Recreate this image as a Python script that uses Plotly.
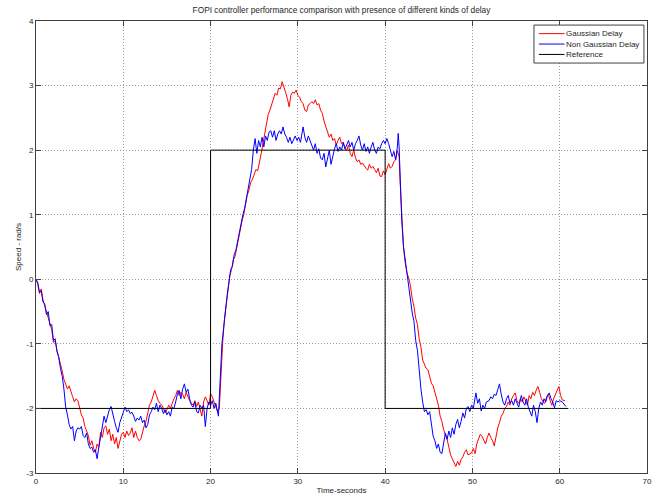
import plotly.graph_objects as go

title_text = "FOPI controller performance comparison with presence of different kinds of delay"
x_label = "Time-seconds"
y_label = "Speed - rad/s"
x_ticks = [0, 10, 20, 30, 40, 50, 60, 70]
y_ticks = [-3, -2, -1, 0, 1, 2, 3, 4]
legend_names = ["Gaussian Delay", "Non Gaussian Delay", "Reference"]
legend_colors = ["#ff0000", "#0000ff", "#000000"]

# Gaussian delay response (time s, speed rad/s)
gauss_points = [
    (0, 0), (0.2, -0.08), (0.4, -0.22), (0.6, -0.15), (0.8, -0.32), (1.0, -0.42), (1.2, -0.5),
    (1.4, -0.58), (1.6, -0.7), (1.8, -0.78), (2.0, -0.98), (2.2, -0.95), (2.4, -1.1), (2.6, -1.2),
    (2.8, -1.3), (3.0, -1.42), (3.2, -1.55), (3.4, -1.62), (3.6, -1.7), (3.8, -1.65), (4.0, -1.75),
    (4.2, -1.82), (4.4, -1.9), (4.6, -1.85), (4.8, -1.88), (5.0, -2.02), (5.2, -2.1), (5.4, -2.15),
    (5.6, -2.28), (5.8, -2.35), (6.0, -2.42), (6.2, -2.57), (6.4, -2.5), (6.6, -2.62), (6.8, -2.68),
    (7.0, -2.55), (7.2, -2.6), (7.4, -2.37), (7.6, -2.45), (7.8, -2.3), (8.0, -2.27), (8.2, -2.4),
    (8.4, -2.32), (8.6, -2.5), (8.8, -2.4), (9.0, -2.55), (9.2, -2.45), (9.4, -2.62), (9.6, -2.5),
    (9.8, -2.4), (10.0, -2.37), (10.2, -2.45), (10.4, -2.35), (10.6, -2.42), (10.8, -2.38),
    (11.0, -2.3), (11.2, -2.45), (11.4, -2.35), (11.6, -2.45), (11.8, -2.5), (12.0, -2.48),
    (12.2, -2.35), (12.4, -2.27), (12.6, -2.2), (12.8, -2.05), (13.0, -1.95), (13.2, -1.9),
    (13.4, -1.82), (13.6, -1.72), (13.8, -1.8), (14.0, -1.88), (14.2, -1.92), (14.4, -1.95),
    (14.6, -2.0), (14.8, -2.07), (15.0, -2.02), (15.2, -1.95), (15.4, -2.0), (15.6, -1.92),
    (15.8, -1.85), (16.0, -1.8), (16.2, -1.72), (16.4, -1.8), (16.6, -1.75), (16.8, -1.78),
    (17.0, -1.85), (17.2, -1.75), (17.4, -1.82), (17.6, -1.88), (17.8, -1.92), (18.0, -1.95),
    (18.2, -1.88), (18.4, -1.97), (18.6, -1.9), (18.8, -2.0), (19.0, -2.12), (19.2, -1.9),
    (19.4, -1.82), (19.6, -1.88), (19.8, -1.95), (20.0, -1.77), (20.2, -1.82), (20.4, -1.9),
    (20.6, -1.98), (20.8, -2.05), (21.0, -2.0), (21.2, -1.4), (21.4, -0.95), (21.6, -0.6),
    (21.8, -0.4), (22.0, -0.2), (22.2, 0.05), (22.4, 0.15), (22.6, 0.3), (22.8, 0.35), (23.0, 0.5),
    (23.2, 0.62), (23.4, 0.78), (23.6, 0.9), (23.8, 1.0), (24.0, 1.15), (24.2, 1.3), (24.4, 1.38),
    (24.6, 1.5), (24.8, 1.55), (25.0, 1.62), (25.2, 1.7), (25.4, 1.68), (25.6, 1.85), (25.8, 1.95),
    (26.0, 2.1), (26.2, 2.25), (26.4, 2.4), (26.6, 2.55), (26.8, 2.62), (27.0, 2.72), (27.2, 2.8),
    (27.4, 2.88), (27.6, 2.85), (27.8, 2.96), (28.0, 2.95), (28.2, 3.06), (28.4, 2.98), (28.6, 2.9),
    (28.8, 2.8), (29.0, 2.67), (29.2, 2.85), (29.4, 2.9), (29.6, 2.88), (29.8, 2.93), (30.0, 2.85),
    (30.2, 2.82), (30.4, 2.75), (30.6, 2.72), (30.8, 2.62), (31.0, 2.6), (31.2, 2.7), (31.4, 2.72),
    (31.6, 2.75), (31.8, 2.72), (32.0, 2.78), (32.2, 2.7), (32.4, 2.72), (32.6, 2.62), (32.8, 2.57),
    (33.0, 2.45), (33.2, 2.36), (33.4, 2.3), (33.6, 2.2), (33.8, 2.25), (34.0, 2.15), (34.2, 2.18),
    (34.4, 2.08), (34.6, 2.15), (34.8, 2.2), (35.0, 2.1), (35.2, 2.12), (35.4, 2.02), (35.6, 2.0),
    (35.8, 2.08), (36.0, 1.95), (36.2, 1.9), (36.4, 2.0), (36.6, 1.88), (36.8, 1.82), (37.0, 1.85),
    (37.2, 1.78), (37.4, 1.8), (37.6, 1.75), (37.8, 1.72), (38.0, 1.69), (38.2, 1.78), (38.4, 1.72),
    (38.6, 1.75), (38.8, 1.7), (39.0, 1.65), (39.2, 1.72), (39.4, 1.6), (39.6, 1.59), (39.8, 1.68),
    (40.0, 1.62), (40.2, 1.69), (40.4, 1.79), (40.6, 1.72), (40.8, 1.75), (41.0, 1.82), (41.2, 1.85),
    (41.4, 1.99), (41.6, 1.9), (41.7, 1.55), (41.9, 0.9), (42.1, 0.5), (42.3, 0.25), (42.5, 0.1),
    (42.7, 0.02), (42.9, -0.1), (43.1, -0.3), (43.3, -0.42), (43.5, -0.6), (43.7, -0.7),
    (43.9, -0.92), (44.1, -1.05), (44.3, -1.25), (44.5, -1.32), (44.7, -1.38), (44.9, -1.4),
    (45.1, -1.5), (45.3, -1.61), (45.5, -1.65), (45.7, -1.75), (45.9, -1.82), (46.1, -1.95),
    (46.3, -2.12), (46.5, -2.2), (46.7, -2.33), (46.9, -2.4), (47.1, -2.48), (47.3, -2.6),
    (47.5, -2.72), (47.7, -2.78), (47.9, -2.85), (48.1, -2.9), (48.3, -2.82), (48.5, -2.88),
    (48.7, -2.79), (48.9, -2.75), (49.1, -2.68), (49.3, -2.64), (49.5, -2.72), (49.7, -2.7),
    (49.9, -2.69), (50.1, -2.62), (50.3, -2.7), (50.5, -2.55), (50.7, -2.48), (50.9, -2.4),
    (51.1, -2.43), (51.3, -2.5), (51.5, -2.55), (51.7, -2.45), (51.9, -2.38), (52.1, -2.45),
    (52.3, -2.5), (52.5, -2.58), (52.7, -2.42), (52.9, -2.3), (53.1, -2.22), (53.3, -2.12),
    (53.5, -2.08), (53.7, -2.0), (53.9, -1.97), (54.1, -1.9), (54.3, -1.95), (54.5, -1.85),
    (54.7, -1.8), (54.9, -1.76), (55.1, -1.88), (55.3, -1.92), (55.5, -1.85), (55.7, -1.9),
    (55.9, -1.82), (56.1, -1.88), (56.3, -1.95), (56.5, -1.8), (56.7, -1.85), (56.9, -1.75),
    (57.1, -1.8), (57.3, -1.72), (57.5, -1.66), (57.7, -1.75), (57.9, -1.85), (58.1, -1.9),
    (58.3, -1.92), (58.5, -1.82), (58.7, -1.78), (58.9, -1.88), (59.1, -1.95), (59.3, -1.85),
    (59.5, -1.78), (59.7, -1.7), (59.9, -1.66), (60.1, -1.8), (60.3, -1.87), (60.6, -1.88),
]

# Non Gaussian delay response (time s, speed rad/s)
nongauss_points = [
    (0, 0), (0.2, -0.05), (0.4, -0.2), (0.6, -0.18), (0.8, -0.35), (1.0, -0.38), (1.2, -0.55),
    (1.4, -0.5), (1.6, -0.72), (1.8, -0.7), (2.0, -0.95), (2.2, -0.92), (2.4, -1.12), (2.6, -1.2),
    (2.8, -1.38), (3.0, -1.5), (3.2, -1.7), (3.4, -1.98), (3.6, -2.1), (3.8, -2.25), (4.0, -2.32),
    (4.2, -2.28), (4.4, -2.5), (4.6, -2.35), (4.8, -2.3), (5.0, -2.32), (5.2, -2.28), (5.4, -2.42),
    (5.6, -2.45), (5.8, -2.38), (6.0, -2.55), (6.2, -2.62), (6.4, -2.6), (6.6, -2.68), (6.8, -2.64),
    (7.0, -2.78), (7.2, -2.6), (7.4, -2.45), (7.6, -2.28), (7.8, -2.12), (8.0, -2.22), (8.2, -2.1),
    (8.4, -2.02), (8.6, -1.97), (8.8, -2.1), (9.0, -2.2), (9.2, -2.3), (9.4, -2.37), (9.6, -2.22),
    (9.8, -2.15), (10.0, -2.05), (10.2, -1.98), (10.4, -2.05), (10.6, -2.02), (10.8, -2.08),
    (11.0, -2.06), (11.2, -2.12), (11.4, -2.2), (11.6, -2.15), (11.8, -2.18), (12.0, -2.12),
    (12.2, -2.22), (12.4, -2.18), (12.6, -2.3), (12.8, -2.25), (13.0, -2.1), (13.2, -2.05),
    (13.4, -1.98), (13.6, -2.02), (13.8, -1.92), (14.0, -2.05), (14.2, -1.95), (14.4, -2.0),
    (14.6, -2.08), (14.8, -2.02), (15.0, -2.1), (15.2, -2.05), (15.4, -2.12), (15.6, -1.98),
    (15.8, -2.0), (16.0, -1.9), (16.2, -1.78), (16.4, -1.72), (16.6, -1.85), (16.8, -1.7),
    (17.0, -1.62), (17.2, -1.75), (17.4, -1.7), (17.6, -1.85), (17.8, -1.95), (18.0, -1.98),
    (18.2, -1.9), (18.4, -2.05), (18.6, -2.07), (18.8, -1.95), (19.0, -2.0), (19.2, -1.95),
    (19.4, -2.28), (19.6, -2.0), (19.8, -1.9), (20.0, -1.95), (20.2, -1.88), (20.4, -2.0),
    (20.6, -1.92), (20.9, -2.12), (21.1, -1.6), (21.3, -1.0), (21.5, -0.75), (21.7, -0.45),
    (21.9, -0.25), (22.1, -0.05), (22.3, 0.15), (22.5, 0.2), (22.7, 0.38), (22.9, 0.45), (23.1, 0.6),
    (23.3, 0.72), (23.5, 0.85), (23.7, 1.0), (23.9, 1.1), (24.1, 1.25), (24.3, 1.4), (24.5, 1.5),
    (24.7, 1.7), (24.9, 2.0), (25.1, 2.18), (25.3, 1.95), (25.5, 2.15), (25.7, 2.05), (25.9, 2.2),
    (26.1, 2.05), (26.3, 2.22), (26.5, 2.15), (26.7, 2.28), (26.9, 2.3), (27.1, 2.2), (27.3, 2.3),
    (27.5, 2.15), (27.7, 2.25), (27.9, 2.3), (28.1, 2.25), (28.3, 2.36), (28.5, 2.25), (28.7, 2.2),
    (28.9, 2.12), (29.1, 2.2), (29.3, 2.1), (29.5, 2.15), (29.7, 2.22), (29.9, 2.15), (30.1, 2.2),
    (30.3, 2.12), (30.6, 2.36), (30.8, 2.2), (31.0, 2.12), (31.2, 2.22), (31.4, 2.15), (31.6, 2.05),
    (31.8, 2.0), (32.0, 2.1), (32.2, 1.95), (32.4, 2.02), (32.6, 1.88), (32.8, 1.85), (33.0, 1.95),
    (33.2, 1.74), (33.4, 1.9), (33.6, 2.0), (33.8, 1.78), (34.0, 1.92), (34.2, 2.02), (34.4, 2.1),
    (34.6, 1.98), (34.8, 2.05), (35.0, 2.0), (35.2, 2.12), (35.4, 2.02), (35.6, 2.08), (35.8, 2.15),
    (36.0, 2.05), (36.2, 2.12), (36.4, 2.0), (36.6, 2.1), (36.8, 2.15), (37.0, 2.22), (37.2, 2.08),
    (37.4, 2.0), (37.6, 2.1), (37.8, 1.98), (38.0, 2.05), (38.2, 1.95), (38.4, 2.05), (38.6, 2.12),
    (38.8, 2.0), (39.0, 1.95), (39.2, 2.05), (39.4, 2.02), (39.6, 2.1), (39.8, 2.15), (40.0, 2.1),
    (40.2, 2.18), (40.4, 2.1), (40.6, 2.0), (40.8, 1.9), (41.0, 1.98), (41.2, 1.85), (41.4, 2.05),
    (41.5, 2.26), (41.6, 2.05), (41.7, 1.6), (41.9, 0.92), (42.1, 0.51), (42.3, 0.3), (42.5, 0.1),
    (42.7, -0.15), (42.9, -0.3), (43.1, -0.52), (43.3, -0.65), (43.5, -0.95), (43.7, -1.1),
    (43.9, -1.45), (44.1, -1.7), (44.3, -1.9), (44.5, -2.05), (44.7, -2.02), (44.9, -2.1),
    (45.1, -2.05), (45.3, -2.25), (45.5, -2.43), (45.7, -2.5), (45.9, -2.62), (46.1, -2.55),
    (46.3, -2.68), (46.5, -2.7), (46.7, -2.5), (46.9, -2.38), (47.1, -2.48), (47.3, -2.35),
    (47.5, -2.45), (47.7, -2.3), (47.9, -2.4), (48.1, -2.25), (48.3, -2.17), (48.5, -2.3),
    (48.7, -2.2), (48.9, -2.07), (49.1, -2.15), (49.3, -2.0), (49.5, -1.97), (49.7, -2.05),
    (49.9, -1.95), (50.1, -2.0), (50.4, -1.76), (50.6, -1.92), (50.8, -1.85), (51.0, -2.04),
    (51.2, -1.95), (51.4, -2.0), (51.6, -1.9), (51.9, -1.88), (52.1, -1.82), (52.3, -1.85),
    (52.5, -1.78), (52.7, -1.8), (52.9, -1.71), (53.1, -1.62), (53.3, -1.78), (53.5, -1.9),
    (53.7, -1.95), (53.9, -1.85), (54.1, -1.8), (54.3, -1.92), (54.5, -1.88), (54.7, -1.95),
    (54.9, -1.85), (55.1, -1.92), (55.3, -1.98), (55.6, -1.8), (55.8, -1.9), (56.0, -1.95),
    (56.2, -1.85), (56.4, -1.98), (56.6, -2.05), (56.8, -2.12), (57.0, -1.95), (57.2, -2.05),
    (57.4, -2.22), (57.6, -2.0), (57.8, -1.9), (58.0, -1.95), (58.2, -1.85), (58.4, -1.9),
    (58.6, -1.8), (58.8, -1.76), (59.0, -1.85), (59.2, -1.9), (59.4, -1.99), (59.6, -1.88),
    (59.8, -1.9), (60.0, -1.88), (60.3, -1.9), (60.7, -1.97),
]

ref_t = [0, 20, 20, 40, 40, 61]
ref_speed = [-2, -2, 2, 2, -2, -2]

gauss_t = [p[0] for p in gauss_points]
gauss_speed = [p[1] for p in gauss_points]
nongauss_t = [p[0] for p in nongauss_points]
nongauss_speed = [p[1] for p in nongauss_points]

FONT = "Liberation Sans, Arial, sans-serif"
TXT = "#262626"
AX = "#404040"

fig = go.Figure()
fig.add_trace(go.Scatter(x=gauss_t, y=gauss_speed, mode="lines", name=legend_names[0],
                         line=dict(color=legend_colors[0], width=1)))
fig.add_trace(go.Scatter(x=nongauss_t, y=nongauss_speed, mode="lines", name=legend_names[1],
                         line=dict(color=legend_colors[1], width=1)))
fig.add_trace(go.Scatter(x=ref_t, y=ref_speed, mode="lines", name=legend_names[2],
                         line=dict(color=legend_colors[2], width=1)))

axis_common = dict(
    showline=True, linecolor=AX, linewidth=1, mirror="ticks",
    ticks="inside", ticklen=5, tickcolor=AX, tickwidth=1,
    showgrid=True, gridcolor="#9a9a9a", griddash="1px,2px", gridwidth=1,
    zeroline=False, automargin=False, tickfont=dict(family=FONT, size=8, color=TXT),
)

# MATLAB-style compact legend box (paper coordinates of the plot area)
shapes = [dict(type="rect", xref="paper", yref="paper", x0=0.815, x1=0.995, y0=0.907, y1=0.991,
               line=dict(color=AX, width=1), fillcolor="white", layer="above")]
annotations = []
row_y = [0.972, 0.949, 0.926]
for name, col, yy in zip(legend_names, legend_colors, row_y):
    shapes.append(dict(type="line", xref="paper", yref="paper", x0=0.823, x1=0.865, y0=yy, y1=yy,
                       line=dict(color=col, width=1), layer="above"))
    annotations.append(dict(text=name, xref="paper", yref="paper", x=0.866, y=yy,
                            xanchor="left", yanchor="middle", showarrow=False, borderpad=0,
                            font=dict(family=FONT, size=8, color=TXT)))

fig.update_layout(
    width=656, height=495,
    margin=dict(l=36, r=9, t=21, b=22),
    paper_bgcolor="white", plot_bgcolor="white",
    font=dict(family=FONT, size=8, color=TXT),
    title=dict(text=title_text, x=(36 + 647) / 2 / 656, xanchor="center",
               y=1 - 10 / 495, yanchor="middle", font=dict(family=FONT, size=8.3, color=TXT)),
    xaxis=dict(range=[0, 70], tickvals=x_ticks, ticktext=[str(v) for v in x_ticks],
               title=dict(text=x_label, standoff=2, font=dict(family=FONT, size=8, color=TXT)),
               **axis_common),
    yaxis=dict(range=[-3, 4], tickvals=y_ticks, ticktext=[str(v) for v in y_ticks],
               title=dict(text=y_label, standoff=3, font=dict(family=FONT, size=8, color=TXT)),
               **axis_common),
    shapes=shapes,
    annotations=annotations,
    showlegend=False,
)

fig.write_html("out.html", config={"displayModeBar": False},
               post_script="document.body.style.margin='0';document.body.style.overflow='hidden';")
